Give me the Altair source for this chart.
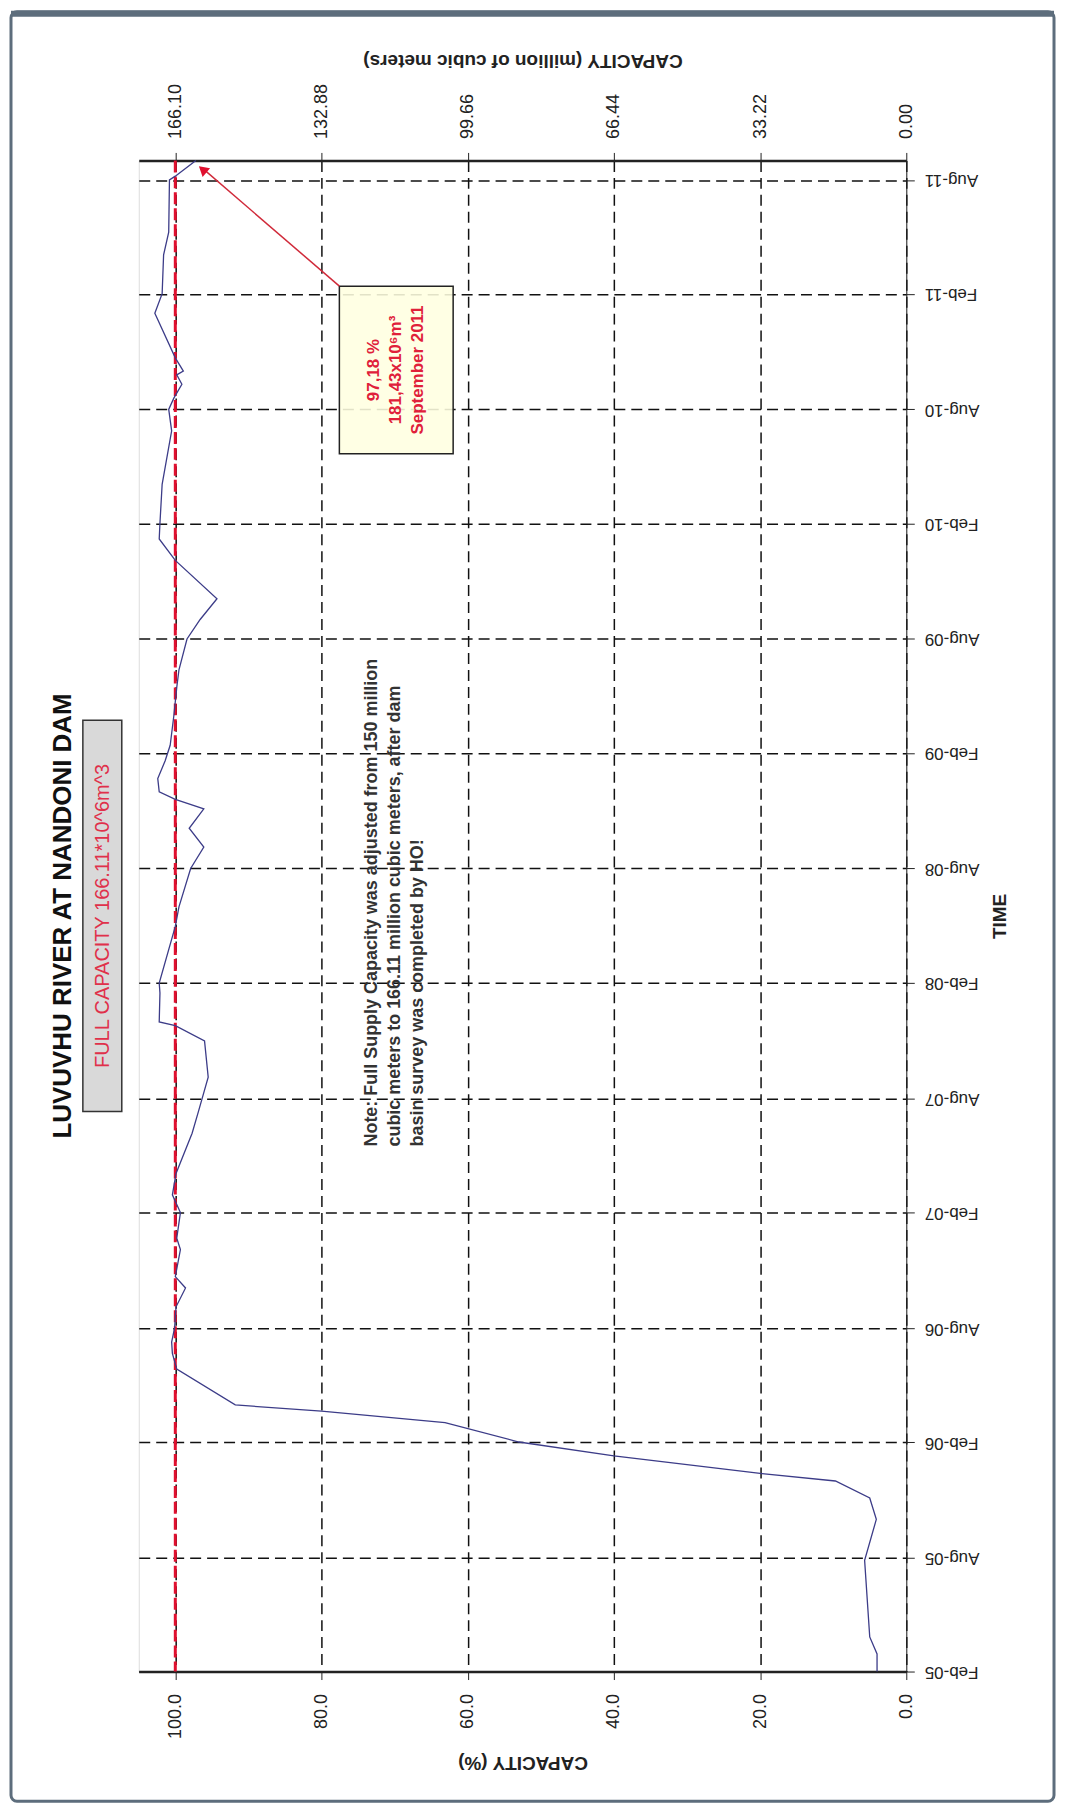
import altair as alt
import pandas as pd

# ---------------- data ----------------
DATES = ["2005-02-01", "2005-03-01", "2005-03-28", "2005-07-28", "2005-10-01", "2005-11-04",
         "2005-12-01", "2005-12-13", "2006-01-10", "2006-02-01", "2006-03-04", "2006-03-22",
         "2006-04-01", "2006-05-28", "2006-06-22", "2006-07-10", "2006-08-01", "2006-09-04",
         "2006-10-04", "2006-10-22", "2006-12-04", "2006-12-22", "2007-02-01", "2007-03-01",
         "2007-04-04", "2007-06-07", "2007-07-13", "2007-09-04", "2007-11-01", "2007-11-25",
         "2007-12-01", "2008-01-16", "2008-02-01", "2008-05-01", "2008-06-01", "2008-08-01",
         "2008-09-04", "2008-10-04", "2008-11-04", "2008-11-19", "2008-12-01", "2008-12-22",
         "2009-01-19", "2009-02-13", "2009-04-01", "2009-05-16", "2009-06-13", "2009-08-01",
         "2009-09-01", "2009-10-04", "2009-12-04", "2010-01-07", "2010-02-01", "2010-04-04",
         "2010-06-28", "2010-08-01", "2010-08-19", "2010-09-10", "2010-09-25", "2010-10-01",
         "2010-10-22", "2011-01-01", "2011-02-01", "2011-04-04", "2011-05-10", "2011-08-01",
         "2011-08-07", "2011-09-01"]
PCT = [4.0, 4.0, 5.0, 5.7, 4.1, 5.0,
       9.7, 20.0, 40.0, 53.0, 63.1, 80.0,
       91.8, 99.8, 100.4, 100.5, 100.1, 99.9,
       98.6, 100.0, 99.3, 99.8, 99.3, 100.4,
       99.9, 97.7, 96.8, 95.5, 96.0, 100.0,
       102.2, 102.1, 102.2, 100.0, 99.5, 97.9,
       96.1, 98.1, 96.1, 100.0, 102.2, 102.4,
       101.4, 100.7, 100.2, 99.8, 99.5, 98.4,
       96.6, 94.3, 100.0, 102.2, 102.1, 101.8,
       100.5, 100.9, 100.2, 99.1, 99.8, 98.9,
       100.0, 102.8, 101.8, 101.6, 100.9, 100.8,
       100.0, 97.18]
FULL_PCT = [100.0]

PCT_TICKS = [0, 20, 40, 60, 80, 100]
VOLUME_LABELS = ["0.00", "33.22", "66.44", "99.66", "132.88", "166.10"]
TIME_TICK_YEARS = [2005, 2005, 2006, 2006, 2007, 2007, 2008, 2008, 2009, 2009, 2010, 2010, 2011, 2011]
TIME_TICK_MONTHS = [2, 8, 2, 8, 2, 8, 2, 8, 2, 8, 2, 8, 2, 8]

TITLE = "LUVUVHU RIVER AT NANDONI DAM"
SUBTITLE = "FULL CAPACITY 166.11*10^6m^3"
NOTE_LINES = ["Note: Full Supply Capacity was adjusted from 150 million",
              "cubic meters to 166.11 million cubic meters, after dam",
              "basin survey was completed by HO!"]
BOX_LINES = ["97,18 %", "181,43x10\u2076m\u00b3", "September 2011"]

# ---------------- chart ----------------
FONT = "Liberation Sans"
df = pd.DataFrame({"date": DATES, "pct": PCT})
one = pd.DataFrame({"k": [0]})

W, H = 769, 1514

xscale = alt.Scale(domain=[0, 105], reverse=True, nice=False, zero=False)
yscale = alt.Scale(type="utc", nice=False,
                   domain=[alt.DateTime(year=2005, month=2, date=1, utc=True),
                           alt.DateTime(year=2011, month=9, date=1, utc=True)])
time_ticks = [alt.DateTime(year=y, month=m, date=1, utc=True)
              for y, m in zip(TIME_TICK_YEARS, TIME_TICK_MONTHS)]

vol_expr = "[" + ",".join("'%s'" % s for s in VOLUME_LABELS) + "][indexof([" + \
    ",".join(str(v) for v in PCT_TICKS) + "], datum.value)]"

line = alt.Chart(df).mark_line(color="#3c3c88", strokeWidth=1.3).encode(
    x=alt.X("pct:Q", scale=xscale,
            axis=alt.Axis(orient="bottom", values=PCT_TICKS, format=".1f",
                          labelAngle=270, labelAlign="right", labelBaseline="middle",
                          labelFontSize=18, labelPadding=14, labelColor="#222", labelFont=FONT,
                          title="CAPACITY (%)", titleAngle=180, titleBaseline="bottom",
                          titleFontSize=19, titleFontWeight="bold", titleFont=FONT,
                          titleColor="#222", titlePadding=14,
                          grid=True, gridDash=[11, 6], gridColor="#111", gridWidth=1.5,
                          gridOpacity=1, domainWidth=2.5, domainColor="#222",
                          tickSize=8, tickColor="#222", tickWidth=1)),
    y=alt.Y("date:T", scale=yscale,
            axis=alt.Axis(orient="right", values=time_ticks,
                          labelExpr="utcFormat(datum.value, '%b-%y')",
                          labelAngle=180, labelAlign="right", labelBaseline="middle",
                          labelFontSize=17, labelPadding=10, labelColor="#222", labelFont=FONT,
                          title="TIME", titleAngle=270, titleBaseline="top",
                          titleFontSize=19, titleFontWeight="bold", titleFont=FONT,
                          titleColor="#222", titlePadding=12,
                          grid=True, gridDash=[11, 6], gridColor="#111", gridWidth=1.5,
                          gridOpacity=1, domainWidth=1, domainColor="#222",
                          tickSize=8, tickColor="#222")),
)

full = alt.Chart(pd.DataFrame({"full": FULL_PCT})).mark_rule(
    color="#e0102f", strokeWidth=3, strokeDash=[12, 4]).encode(
    x=alt.X("full:Q", scale=xscale,
            axis=alt.Axis(orient="top", values=PCT_TICKS, labelExpr=vol_expr,
                          labelAngle=270, labelAlign="left", labelBaseline="middle",
                          labelFontSize=18, labelPadding=14, labelColor="#222", labelFont=FONT,
                          title="CAPACITY (million of cubic meters)", titleAngle=180,
                          titleBaseline="top", titleFontSize=19, titleFontWeight="bold",
                          titleFont=FONT, titleColor="#222", titlePadding=14,
                          grid=False, domainWidth=2.5, domainColor="#222",
                          tickSize=8, tickColor="#222")),
)

# ---- annotations (pixel positions relative to the plot area) ----
title = alt.Chart(one).mark_text(angle=270, fontSize=26, fontWeight="bold", font=FONT,
                                 color="#111", align="center", baseline="middle").encode(
    x=alt.value(-76), y=alt.value(757), text=alt.value(TITLE))

sub_box = alt.Chart(one).mark_rect(fill="#d9d9d9", stroke="#333", strokeWidth=1.5).encode(
    x=alt.value(-56), x2=alt.value(-17), y=alt.value(561), y2=alt.value(953))
sub_text = alt.Chart(one).mark_text(angle=270, fontSize=20, font=FONT, color="#e0304a",
                                    align="center", baseline="middle").encode(
    x=alt.value(-36), y=alt.value(757), text=alt.value(SUBTITLE))

note_layers = []
for i, t in enumerate(NOTE_LINES):
    note_layers.append(
        alt.Chart(one).mark_text(angle=270, fontSize=18, fontWeight="bold", font=FONT,
                                 color="#333", align="left", baseline="middle").encode(
            x=alt.value(234 + 23 * i), y=alt.value(988), text=alt.value(t)))

box = alt.Chart(one).mark_rect(fill="#ffffe0", fillOpacity=0.88, stroke="#222",
                               strokeWidth=1.5).encode(
    x=alt.value(201), x2=alt.value(315), y=alt.value(126), y2=alt.value(294))
box_layers = []
for i, t in enumerate(BOX_LINES):
    box_layers.append(
        alt.Chart(one).mark_text(angle=270, fontSize=17, fontWeight="bold", font=FONT,
                                 color="#e0203a", align="center", baseline="middle").encode(
            x=alt.value(236 + 22 * i), y=alt.value(210), text=alt.value(t)))

arrow = alt.Chart(one).mark_rule(color="#d02a3a", strokeWidth=1.5).encode(
    x=alt.value(201), y=alt.value(126), x2=alt.value(64), y2=alt.value(8))
arrow_head = alt.Chart(one).mark_point(shape="triangle-up", filled=True, color="#e0102f",
                                       size=130, angle=311, opacity=1).encode(
    x=alt.value(64), y=alt.value(9))

frame = alt.Chart(one).mark_rect(fill="transparent", stroke="#5d6d7c", strokeWidth=3,
                                 cornerRadius=6).encode(
    x=alt.value(-128), x2=alt.value(917), y=alt.value(-149), y2=alt.value(1644))
top_bar = alt.Chart(one).mark_rect(fill="#5d6d7c").encode(
    x=alt.value(-128), x2=alt.value(917), y=alt.value(-150), y2=alt.value(-144))

chart = alt.layer(
    full, line, title, sub_box, sub_text, *note_layers, box, *box_layers,
    arrow, arrow_head, frame, top_bar
).resolve_axis(x="independent").properties(
    width=W, height=H,
    autosize=alt.AutoSizeParams(type="none"),
    padding={"left": 131, "top": 151, "right": 152, "bottom": 135},
).configure_view(stroke="#888", strokeWidth=1).configure(background="white")

chart.save("out.html", embed_options={"renderer": "svg", "actions": False})
